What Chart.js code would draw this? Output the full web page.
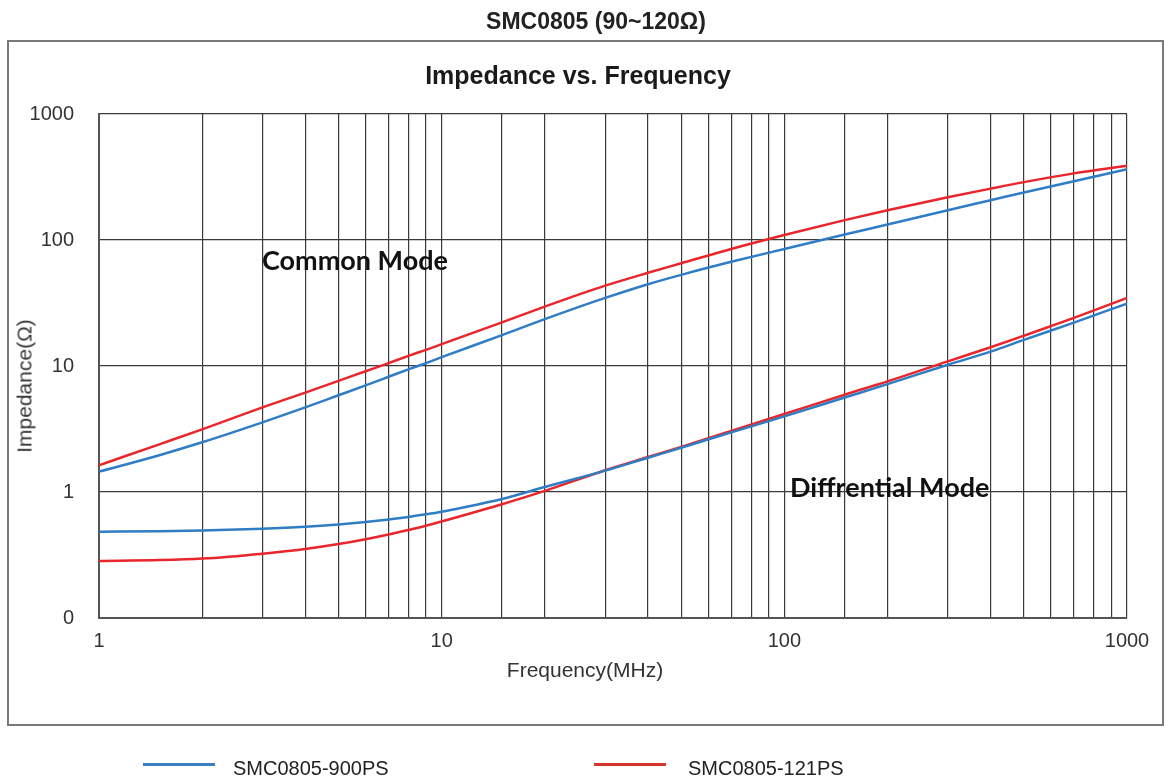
<!DOCTYPE html>
<html>
<head>
<meta charset="utf-8">
<script src="https://cdn.jsdelivr.net/npm/chart.js@4.4.1/dist/chart.umd.min.js"></script>
<style>
  body { margin: 0; background: #fff; font-family: "Liberation Sans", Arial, sans-serif; }
  #wrap { position: relative; width: 1173px; height: 783px; overflow: hidden; }
  #c { position: absolute; left: 0; top: 0; }
  #box { position: absolute; left: 7px; top: 40px; width: 1157px; height: 686px; border: 2px solid #7a7a7a; box-sizing: border-box; }
  .t { position: absolute; white-space: nowrap; color: #222; line-height: 1; }
  .lg { position: absolute; height: 3px; width: 72px; }
</style>
</head>
<body>
<div id="wrap">
  <div id="box"></div>
  <canvas id="c" width="1173" height="783"></canvas>
  <div class="t" style="left:0;width:1192px;text-align:center;top:10px;font-size:23px;font-weight:bold;">SMC0805 (90~120Ω)</div>
  <div class="t" style="left:0;width:1156px;text-align:center;top:63px;font-size:25px;font-weight:bold;color:#1a1a1a;">Impedance vs. Frequency</div>
  <div class="t" style="left:262px;top:246px;font-size:27px;font-weight:bold;font-family:Lato,sans-serif;color:#111;">Common Mode</div>
  <div class="t" style="left:790px;top:473px;font-size:27px;font-weight:bold;font-family:Lato,sans-serif;color:#111;">Diffrential Mode</div>
  <div class="t" style="left:0;width:1170px;text-align:center;top:659px;font-size:21px;color:#333;">Frequency(MHz)</div>
  <div class="t" style="left:24px;top:386px;font-size:21px;color:#333;transform:translate(-50%,-50%) rotate(-90deg);">Impedance(Ω)</div>
  <div class="lg" style="left:143px;top:763px;background:#3a7fc0;"></div>
  <div class="t" style="left:233px;top:758px;font-size:20px;">SMC0805-900PS</div>
  <div class="lg" style="left:594px;top:763px;background:#d9342b;"></div>
  <div class="t" style="left:688px;top:758px;font-size:20px;">SMC0805-121PS</div>
</div>
<script>
// frequency points (MHz)
const freqMHz = [1, 1.5, 2, 3, 4, 5, 6, 7, 8, 9, 10, 15, 20, 30, 40, 50, 70, 100, 150, 200, 300, 400, 500, 700, 1000];

// common mode impedance (ohm)
const cm900 = [1.45, 1.96, 2.48, 3.57, 4.69, 5.86, 7.02, 8.21, 9.41, 10.55, 11.75, 17.6, 23.55, 34.7, 44.6, 52.9, 67.1, 84.9, 110.5, 132.6, 172.5, 206.9, 238.4, 293, 364];
const cm121 = [1.63, 2.39, 3.14, 4.69, 6.15, 7.62, 9.09, 10.55, 12.03, 13.44, 14.9, 22.2, 29.6, 43.4, 54.9, 65.3, 84.9, 109.5, 143.8, 172.5, 218.4, 255.8, 287.9, 337.9, 388];

// differential mode impedance (ohm)
const dm900 = [0.484, 0.488, 0.495, 0.511, 0.530, 0.553, 0.578, 0.605, 0.634, 0.665, 0.698, 0.88, 1.095, 1.477, 1.872, 2.244, 2.974, 3.98, 5.62, 7.18, 10.23, 13.0, 16.1, 22.1, 31.3];
const dm121 = [0.284, 0.288, 0.296, 0.324, 0.353, 0.386, 0.422, 0.460, 0.500, 0.540, 0.584, 0.80, 1.02, 1.489, 1.895, 2.282, 3.05, 4.155, 5.92, 7.55, 10.88, 14.08, 17.39, 24.1, 34.7];

const xTickLabels = [1, 10, 100, 1000];
const yTickValues = [0.1, 1, 10, 100, 1000];
const yTickLabels = ['0', '1', '10', '100', '1000'];

const blue = '#2f7dc4';
const red = '#e8262b';

function pts(arr) {
    return freqMHz.map((f, i) => ({ x: f, y: arr[i] }));
}

function line(label, arr, color) {
    return {
        label: label,
        data: pts(arr),
        borderColor: color,
        borderWidth: 2.5,
        pointRadius: 0,
        fill: false,
        cubicInterpolationMode: 'monotone'
    };
}

new Chart(document.getElementById('c'), {
    type: 'line',
    data: {
        datasets: [
            line('SMC0805-900PS CM', cm900, blue),
            line('SMC0805-121PS CM', cm121, red),
            line('SMC0805-900PS DM', dm900, blue),
            line('SMC0805-121PS DM', dm121, red)
        ]
    },
    options: {
        responsive: false,
        animation: false,
        devicePixelRatio: 1,
        layout: { padding: { left: 8, top: 114, right: 46, bottom: 105 } },
        plugins: { legend: { display: false }, tooltip: { enabled: false } },
        scales: {
            x: {
                type: 'logarithmic',
                min: 1,
                max: 1000,
                grid: { color: '#3a3a3a', lineWidth: 1.2, drawTicks: false },
                border: { color: '#555', width: 2 },
                ticks: {
                    autoSkip: false,
                    maxRotation: 0,
                    minRotation: 0,
                    padding: 11,
                    color: '#333',
                    font: { family: 'Liberation Sans', size: 20 },
                    callback: (v) => xTickLabels.includes(v) ? String(v) : ''
                },
                afterFit: (s) => { s.height = 60; }
            },
            y: {
                type: 'logarithmic',
                min: 0.1,
                max: 1000,
                grid: { color: '#3a3a3a', lineWidth: 1.2, drawTicks: false },
                border: { color: '#555', width: 2 },
                afterBuildTicks: (s) => { s.ticks = yTickValues.map(v => ({ value: v })); },
                ticks: {
                    padding: 25,
                    color: '#333',
                    font: { family: 'Liberation Sans', size: 20 },
                    callback: (v) => {
                        const i = yTickValues.indexOf(v);
                        return i >= 0 ? yTickLabels[i] : '';
                    }
                },
                afterFit: (s) => { s.width = 91; }
            }
        }
    }
});
</script>
</body>
</html>
